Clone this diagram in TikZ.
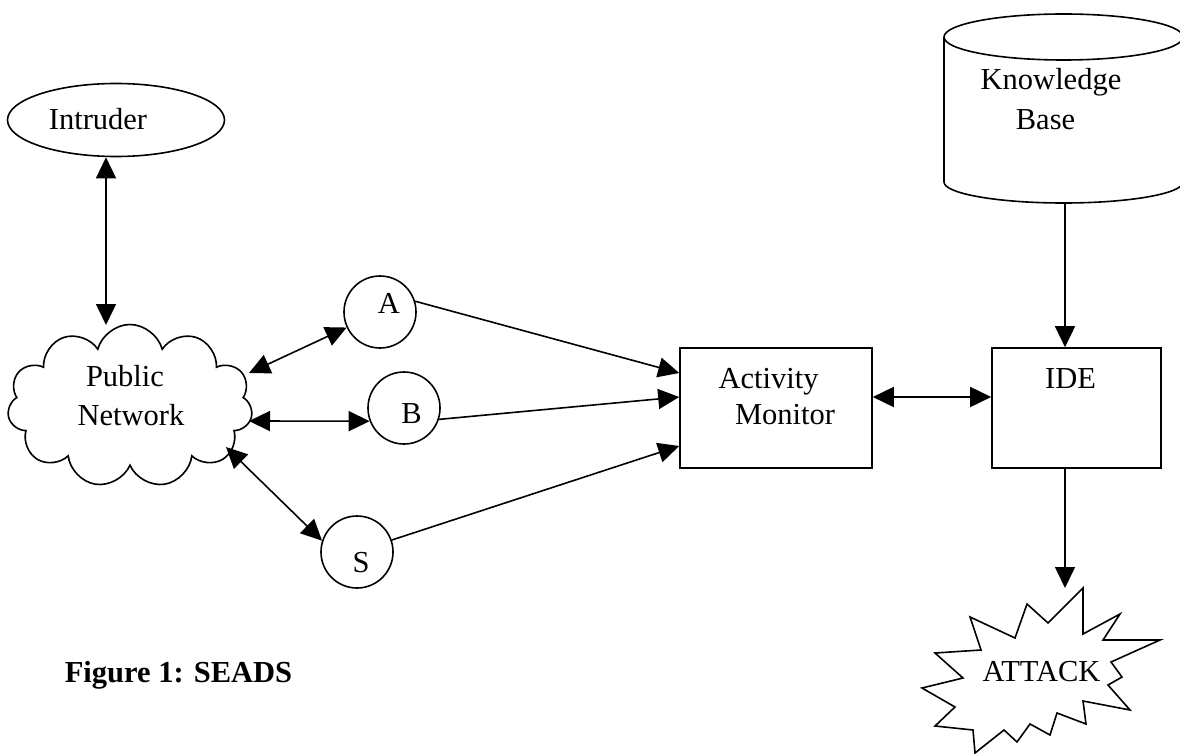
\documentclass[tikz,border=0pt]{standalone}
\usepackage{fontspec}
\setmainfont{Liberation Serif}
\usetikzlibrary{shapes.geometric,shapes.symbols,arrows.meta,calc}
\begin{document}
\begin{tikzpicture}[x=1pt,y=-1pt,line width=1.6pt,
  every node/.style={font=\fontsize{30.5}{38}\selectfont},
  txt/.style={anchor=base,inner sep=0pt},
  tip/.style={Triangle[length=21pt,width=20pt]},
  conn/.style={-{Triangle[length=21pt,width=20pt]}},
  bconn/.style={{Triangle[length=21pt,width=20pt]}-{Triangle[length=21pt,width=20pt]}},
  station/.style={draw,circle,minimum size=72pt,inner sep=0pt},
  block/.style={draw,rectangle,minimum height=120pt,inner sep=0pt}]
\useasboundingbox (0,0) rectangle (1180,754);

% Intruder
\node[draw,ellipse,minimum width=217pt,minimum height=73pt,inner sep=0pt] (intr) at (116,120) {};
\node[txt] at (98,130) {Intruder};

% Public network cloud
\node[draw,cloud,cloud puffs=11,aspect=1.5,minimum width=245pt,minimum height=163pt,inner sep=0pt] (net) at (130,406) {};
\node[txt] at (125,386) {Public};
\node[txt] at (131,425) {Network};
\coordinate (netI) at (106,325);
\coordinate (netA) at (249,373);
\coordinate (netB) at (249,421);
\coordinate (netS) at (226,447);

% stations
\node[station] (A) at (380,312) {};
\node[txt] at (389,313) {A};
\node[station] (B) at (404,408) {};
\node[txt] at (411.5,423) {B};
\node[station] (S) at (357,552) {};
\node[txt] at (361,572) {S};

% Activity monitor and IDE
\node[block,minimum width=192pt] (AM) at (776,408) {};
\node[txt] at (768.5,388) {Activity};
\node[txt] at (785,424) {Monitor};
\node[block,minimum width=169pt] (IDE) at (1076.5,408) {};
\node[txt] at (1070.5,388) {IDE};

% Knowledge base cylinder
\draw (944,37) -- (944,182) arc[start angle=180,end angle=360,x radius=119.5pt,y radius=21pt] -- (1183,37);
\draw (1063.5,37) ellipse [x radius=119.5pt,y radius=23pt];
\coordinate (kb) at (1065,203);
\node[txt] at (1051,90) {Knowledge};
\node[txt] at (1045.5,130) {Base};

% Attack starburst
\draw[line join=miter,miter limit=20] (1083,588) -- (1083,634) -- (1120,614) -- (1103,640) -- (1160,640) -- (1111,662) -- (1122,677) -- (1108,685) -- (1130,710) -- (1083,701) -- (1086,724) -- (1057,713) -- (1050,735) -- (1030,724) -- (1017,742) -- (1004,730) -- (975,753) -- (973,730) -- (935,726) -- (955,707) -- (922,688) -- (963,678) -- (935,653) -- (981,650) -- (970,617) -- (1015,638) -- (1027,604) -- (1048,623) -- cycle;
\coordinate (atk) at (1065,588);
\node[txt] at (1041.5,681) {ATTACK};

% caption
\node[anchor=base east,inner sep=0pt,font=\fontsize{30.5}{38}\selectfont\bfseries] (cap) at (293,682) {Figure 1: SEADS};

% connectors
\draw[bconn] (netI) -- (netI |- intr.south);
\draw[bconn] (netA) -- (A);
\draw[bconn] (netB) -- (B.201);
\draw[bconn] (netS) -- (S.162);
\draw[conn] (A.17) -- ([yshift=35pt]AM.west);
\draw[conn] (B.-18) -- ([yshift=11pt]AM.west);
\draw[conn] (S.19) -- ([yshift=-38pt]AM.west);
\draw[bconn] ([yshift=11pt]AM.east) -- ([yshift=11pt]IDE.west);
\draw[conn] (kb) -- (kb |- IDE.north);
\draw[conn] (IDE.south -| kb) -- (atk);
\end{tikzpicture}
\end{document}
